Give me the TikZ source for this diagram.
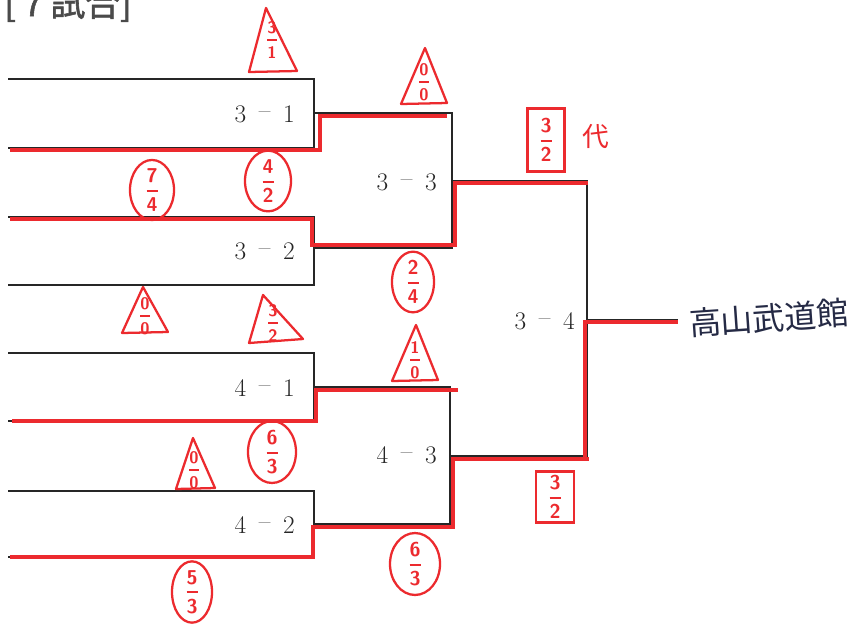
\documentclass[tikz,border=0pt]{standalone}
\usepackage{amsmath}
\usepackage{fontspec}
\newfontfamily\jpfont{Noto Sans CJK JP}
\newfontfamily\hdrfont[FakeBold=1.6]{Noto Sans CJK JP}
\usetikzlibrary{shapes.geometric}
\definecolor{markred}{HTML}{EC2A2E}
\definecolor{ink}{HTML}{262626}
\definecolor{pen}{HTML}{252A45}
\definecolor{hdrgray}{HTML}{4A4A4A}
\newcommand\fr[2]{$\genfrac{}{}{1.4pt}{0}{\textsf{\bfseries #1}}{\textsf{\bfseries #2}}$}
\newcommand\vs{\enspace\raisebox{0.14em}{--}\enspace}
\tikzset{
  frame/.style={draw=ink, line width=1.8pt, line join=miter},
  win/.style={draw=markred, line width=2.3pt, line join=miter},
  redpen/.style={draw=markred, line width=1.7pt, line join=round, line cap=round},
  score/.style={text=markred, font=\fontsize{15}{16}\selectfont, inner sep=0pt},
  tscore/.style={text=markred, font=\fontsize{12.5}{13}\selectfont, inner sep=0pt},
  ring/.style={score, ellipse, draw=markred, line width=1.7pt},
  sqr/.style={score, rectangle, draw=markred, line width=1.7pt},
  lbl/.style={anchor=east, text=ink, font=\fontsize{19}{21}\selectfont, inner sep=0pt}
}
\begin{document}
\begin{tikzpicture}[x=0.75pt,y=-0.75pt]
\useasboundingbox (0,0) rectangle (860,629);
\clip (0,0) rectangle (860,629);
\fill[white] (0,0) rectangle (860,629);

% header (cut at top, as in the scan)
\node[anchor=base west, inner sep=0pt, text=hdrgray, font=\hdrfont\fontsize{26}{26}\selectfont] (title) at (4,16) {[７試合]};

% first round
\draw[frame] (8,79) -- (314,79) -- (314,148) -- (8,148);
\draw[frame] (8,217) -- (314,217) -- (314,285) -- (8,285);
\draw[frame] (8,353) -- (314,353) -- (314,421) -- (8,421);
\draw[frame] (8,491) -- (314,491) -- (314,557) -- (8,557);
% second round
\draw[frame] (314,113) -- (452,113) -- (452,248) -- (314,248);
\draw[frame] (314,387) -- (450,387) -- (450,524) -- (314,524);
% final
\draw[frame] (452,181) -- (587,181) -- (587,456) -- (450,456);
\draw[frame] (587,320) -- (678,320);

% winners (red)
\draw[win] (10,150) -- (320,150) -- (320,116) -- (447,116);
\draw[win] (10,219) -- (312,219) -- (312,245) -- (455,245) -- (455,183) -- (588,183);
\draw[win] (12,421) -- (316,421) -- (316,390) -- (458,390);
\draw[win] (10,557) -- (313,557) -- (313,527) -- (453,527) -- (453,459) -- (589,459);
\draw[win] (585,459) -- (585,322) -- (678,322);

% match labels
\node[lbl] (m31) at (295,114) {3\vs1};
\node[lbl] (m32) at (295,251) {3\vs2};
\node[lbl] (m41) at (295,388) {4\vs1};
\node[lbl] (m42) at (295,525) {4\vs2};
\node[lbl] (m33) at (437,182) {3\vs3};
\node[lbl] (m43) at (437,455) {4\vs3};
\node[lbl] (m34) at (575,321) {3\vs4};

% venue
\node[text=pen, font=\jpfont\fontsize{24}{24}\selectfont, rotate=4, inner sep=0pt] (venue) at (769,318) {高山武道館};

% triangle scores
\draw[redpen] (266,8) -- (297,71) -- (249,72) -- cycle;
\node[tscore] (t1) at (272,40) {\fr31};
\draw[redpen] (143,287) -- (168,332) -- (122,333) -- cycle;
\node[tscore] (t2) at (145,316) {\fr00};
\draw[redpen] (263,295) -- (303,339) -- (249,343) -- cycle;
\node[tscore] (t3) at (273,323) {\fr32};
\draw[redpen] (193,438) -- (215,488) -- (176,489) -- cycle;
\node[tscore] (t4) at (194,470) {\fr00};
\draw[redpen] (425,48) -- (447,103) -- (401,104) -- cycle;
\node[tscore] (t5) at (424,82) {\fr00};
\draw[redpen] (416,325) -- (438,380) -- (392,381) -- cycle;
\node[tscore] (t6) at (415,360) {\fr10};

% circled scores
\node[ring, minimum width=34.5pt, minimum height=42pt] (c1) at (268,181) {\fr42};
\node[ring, minimum width=33pt, minimum height=37.5pt] (c2) at (152,190) {\fr74};
\node[ring, minimum width=36pt, minimum height=40.5pt] (c3) at (272,452) {\fr63};
\node[ring, minimum width=30pt, minimum height=43.5pt] (c4) at (192,592) {\fr53};
\node[ring, minimum width=31.5pt, minimum height=43.5pt] (c5) at (413,282) {\fr24};
\node[ring, minimum width=37.5pt, minimum height=42.75pt] (c6) at (415,564) {\fr63};

% boxed scores
\node[sqr, minimum width=27.75pt, minimum height=47.25pt] (b1) at (546,140) {\fr32};
\node[sqr, minimum width=28.5pt, minimum height=38.25pt] (b2) at (555,497) {\fr32};
\node[text=markred, font=\jpfont\fontsize{20}{20}\selectfont, inner sep=0pt] (dai) at (596,137) {代};
\end{tikzpicture}
\end{document}
